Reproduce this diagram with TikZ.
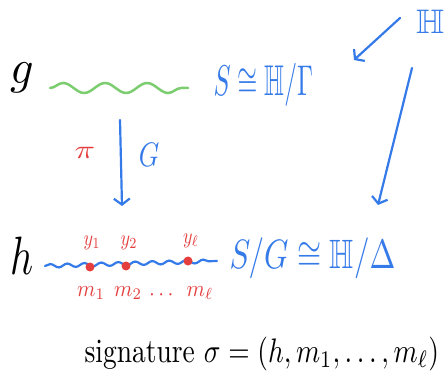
\documentclass[tikz,border=0pt]{standalone}
\usepackage{amsmath,amssymb}
\usetikzlibrary{arrows.meta,decorations.pathmorphing}
\definecolor{hblue}{RGB}{52,122,232}
\definecolor{hred}{RGB}{228,62,62}
\definecolor{hgreen}{RGB}{124,204,112}
\begin{document}
\begin{tikzpicture}[x=1pt,y=-1pt,
  txt/.style={inner sep=0pt,transform shape},
  bluearr/.style={hblue,line width=2.2pt,line cap=round,
    -{Straight Barb[length=6pt,width=16pt]}},
  reddot/.style={circle,fill=hred,inner sep=0pt,minimum size=9pt}]
\useasboundingbox (0,0) rectangle (444,379);
% top row
\node[txt,xscale=4.6,yscale=4.8] (g) at (22,78) {$g$};
\coordinate (gw1) at (50,88);
\coordinate (gw2) at (188,88);
\draw[hgreen,line width=2.5pt,line cap=round,decorate,
  decoration={snake,amplitude=5pt,segment length=42pt}] (gw1) -- (gw2);
\node[txt,hblue,anchor=west,xscale=2.55,yscale=4.3] (S) at (213,85) {$S\cong\mathbb{H}/\Gamma$};
\node[txt,hblue,xscale=3.6,yscale=3.4] (Htop) at (430,22) {$\mathbb{H}$};
\coordinate (a1s) at (400,18);
\coordinate (a1e) at (354,60);
\draw[bluearr] (a1s) -- (a1e);
\coordinate (a2s) at (412,68);
\coordinate (a2e) at (378,205);
\draw[bluearr] (a2s) -- (a2e);
% vertical arrow
\coordinate (vs) at (120,120);
\coordinate (ve) at (122,206);
\draw[bluearr] (vs) -- (ve);
\node[txt,hred,xscale=3.4,yscale=2.6] (pi) at (85,153) {$\pi$};
\node[txt,hblue,xscale=2.6,yscale=3.4] (G) at (149,155) {$G$};
% bottom row
\node[txt,xscale=4.0,yscale=5.4] (h) at (22,256) {$h$};
\coordinate (bw1) at (45,266);
\coordinate (bw2) at (217,261);
\draw[hblue,line width=2.2pt,line cap=round,decorate,
  decoration={snake,amplitude=1.8pt,segment length=17pt}] (bw1) -- (bw2);
\node[reddot] (d1) at (90,267) {};
\node[reddot] (d2) at (126,266) {};
\node[reddot] (d3) at (188,261) {};
\node[txt,hred,xscale=1.8,yscale=2.2] (y1) at (92,243) {$y_1$};
\node[txt,hred,xscale=1.8,yscale=2.2] (y2) at (129,243) {$y_2$};
\node[txt,hred,xscale=1.8,yscale=2.2] (yl) at (191,241) {$y_\ell$};
\node[txt,hred,xscale=2.1,yscale=2.3] (m1) at (91,293) {$m_1$};
\node[txt,hred,xscale=2.1,yscale=2.3] (m2) at (128,293) {$m_2$};
\node[txt,hred,xscale=2.1,yscale=2.3] (md) at (163,295) {$\cdots$};
\node[txt,hred,xscale=2.1,yscale=2.3] (ml) at (200,293) {$m_\ell$};
\node[txt,hblue,anchor=west,xscale=3.1,yscale=4.1] (SG) at (229,258) {$S/G\cong\mathbb{H}/\Delta$};
% signature
\node[txt,anchor=base west,xscale=2.75,yscale=3.4] (sig) at (84,362)
  {signature $\sigma=(h,m_1,\ldots,m_\ell)$};
\end{tikzpicture}
\end{document}
